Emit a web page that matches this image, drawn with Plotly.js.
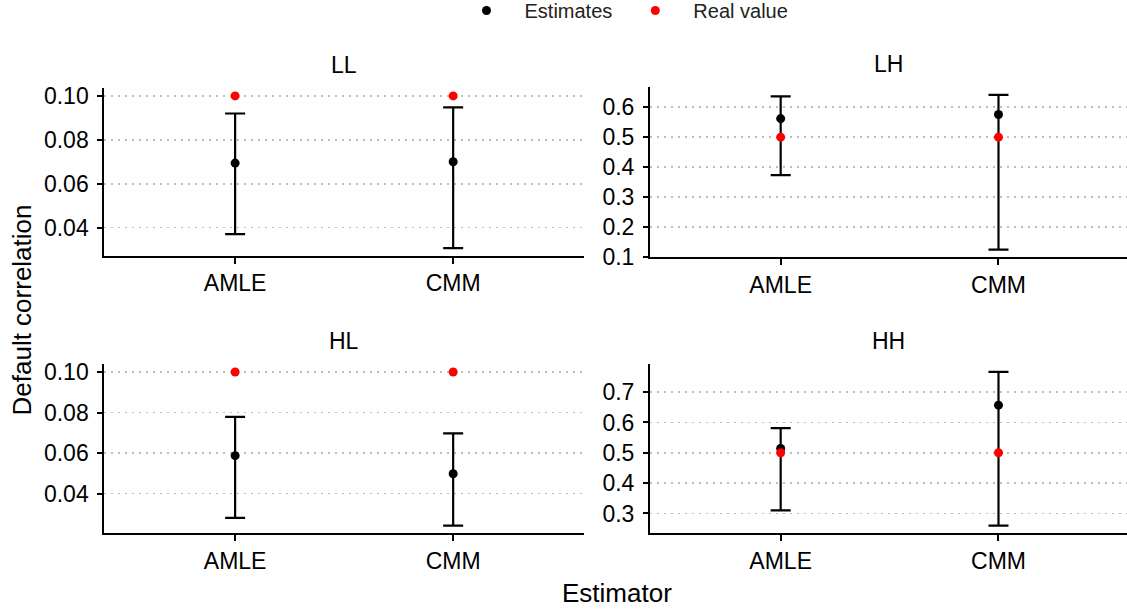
<!DOCTYPE html>
<html>
<head>
<meta charset="utf-8">
<script src="https://cdn.plot.ly/plotly-3.0.1.min.js"></script>
<style>
html,body{margin:0;padding:0;background:#fff;}
#chart{width:1127px;height:611px;}
</style>
</head>
<body>
<div id="chart"></div>
<script>
// ---- data ----
const categories = ['AMLE', 'CMM'];
const panels = ['LL', 'LH', 'HL', 'HH'];

const estLL = [0.0694, 0.0700];
const loLL  = [0.0371, 0.0307];
const hiLL  = [0.0920, 0.0948];
const realLL = [0.10, 0.10];

const estLH = [0.562, 0.5755];
const loLH  = [0.373, 0.1245];
const hiLH  = [0.636, 0.641];
const realLH = [0.5, 0.5];

const estHL = [0.0587, 0.0498];
const loHL  = [0.0280, 0.0242];
const hiHL  = [0.0779, 0.0697];
const realHL = [0.10, 0.10];

const estHH = [0.514, 0.657];
const loHH  = [0.310, 0.260];
const hiHH  = [0.581, 0.767];
const realHH = [0.5, 0.5];

const seriesNames = ['Estimates', 'Real value'];
const yTitle = 'Default correlation';
const xTitle = 'Estimator';

// ---- build ----
const W = 1127, H = 611;
const FONT = '"Liberation Sans", Arial, sans-serif';
const data = {
  LL: {est: estLL, lo: loLL, hi: hiLL, real: realLL},
  LH: {est: estLH, lo: loLH, hi: hiLH, real: realLH},
  HL: {est: estHL, lo: loHL, hi: hiHL, real: realHL},
  HH: {est: estHH, lo: loHH, hi: hiHH, real: realHH}
};
// panel geometry in px (left, right, top, bottom)
const geom = {
  LL: {l: 104.3, r: 584, t: 88.3, b: 255.7, dtick: 0.02, fmt: '.2f', xr: [-0.6, 1.6]},
  LH: {l: 650, r: 1127, t: 87.2, b: 257.3, dtick: 0.1, fmt: '.1f', xr: [-0.6, 1.59]},
  HL: {l: 104.3, r: 584, t: 364.3, b: 533.3, dtick: 0.02, fmt: '.2f', xr: [-0.6, 1.6]},
  HH: {l: 650, r: 1127, t: 364.1, b: 533.3, dtick: 0.1, fmt: '.1f', xr: [-0.6, 1.59]}
};

const traces = [];
const layout = {
  width: W, height: H,
  margin: {l: 0, r: 0, t: 0, b: 0, pad: 0, autoexpand: false},
  paper_bgcolor: '#ffffff',
  plot_bgcolor: '#ffffff',
  font: {family: FONT, color: '#000000'},
  showlegend: true,
  legend: {
    orientation: 'h', x: 621 / W, xanchor: 'center', y: 1.0147, yanchor: 'top',
    font: {family: FONT, size: 20, color: '#222222'},
    itemwidth: 66, bgcolor: 'rgba(0,0,0,0)', borderwidth: 0
  },
  annotations: []
};

panels.forEach((p, i) => {
  const d = data[p], g = geom[p];
  const n = i + 1;
  const xa = n === 1 ? 'x' : 'x' + n;
  const ya = n === 1 ? 'y' : 'y' + n;
  const xk = n === 1 ? 'xaxis' : 'xaxis' + n;
  const yk = n === 1 ? 'yaxis' : 'yaxis' + n;
  const all = d.lo.concat(d.hi, d.real, d.est);
  const mn = Math.min(...all), mx = Math.max(...all);
  const span = mx - mn;
  const yr = [mn - 0.05 * span, mx + 0.05 * span];

  traces.push({
    type: 'scatter', mode: 'markers', x: categories, y: d.est,
    xaxis: xa, yaxis: ya, name: seriesNames[0], legendgroup: 'est',
    showlegend: i === 0,
    marker: {color: '#000000', size: 9},
    error_y: {
      type: 'data', symmetric: false,
      array: d.hi.map((h, k) => h - d.est[k]),
      arrayminus: d.lo.map((l, k) => d.est[k] - l),
      color: '#000000', thickness: 2.2, width: 10
    },
    hoverinfo: 'skip'
  });
  traces.push({
    type: 'scatter', mode: 'markers', x: categories, y: d.real,
    xaxis: xa, yaxis: ya, name: seriesNames[1], legendgroup: 'real',
    showlegend: i === 0,
    marker: {color: '#ff0000', size: 9},
    hoverinfo: 'skip'
  });

  layout[xk] = {
    domain: [g.l / W, g.r / W], anchor: ya, type: 'category',
    categoryorder: 'array', categoryarray: categories, range: g.xr,
    showline: true, linecolor: '#000000', linewidth: 2,
    ticks: 'outside', ticklen: 6, tickwidth: 2, tickcolor: '#000000',
    showgrid: false, zeroline: false, automargin: false,
    tickfont: {family: FONT, size: 23, color: '#000000'},
    fixedrange: true
  };
  layout[yk] = {
    domain: [(H - g.b) / H, (H - g.t) / H], anchor: xa, range: yr,
    dtick: g.dtick, tick0: 0, tickformat: g.fmt,
    showline: true, linecolor: '#000000', linewidth: 2,
    ticks: 'outside', ticklen: 5, tickwidth: 2, tickcolor: '#000000',
    showgrid: true, gridcolor: '#bdbdbd', gridwidth: 1.6, griddash: '2px,5px',
    zeroline: false, automargin: false, ticklabelstandoff: 4,
    tickfont: {family: FONT, size: 23, color: '#000000'},
    fixedrange: true
  };
  layout.annotations.push({
    text: p, xref: 'paper', yref: 'paper',
    x: ((g.l + g.r) / 2) / W, y: (H - (g.t - 23)) / H,
    xanchor: 'center', yanchor: 'middle', showarrow: false,
    font: {family: FONT, size: 23, color: '#000000'}
  });
});

layout.annotations.push({
  text: xTitle, xref: 'paper', yref: 'paper', x: 616.7 / W, y: (H - 593) / H,
  xanchor: 'center', yanchor: 'middle', showarrow: false,
  font: {family: FONT, size: 26, color: '#000000'}
});
layout.annotations.push({
  text: yTitle, xref: 'paper', yref: 'paper', x: 22 / W, y: (H - 310.5) / H,
  xanchor: 'center', yanchor: 'middle', textangle: -90, showarrow: false,
  font: {family: FONT, size: 26, color: '#000000'}
});

Plotly.newPlot('chart', traces, layout, {displayModeBar: false, staticPlot: true});
</script>
</body>
</html>
